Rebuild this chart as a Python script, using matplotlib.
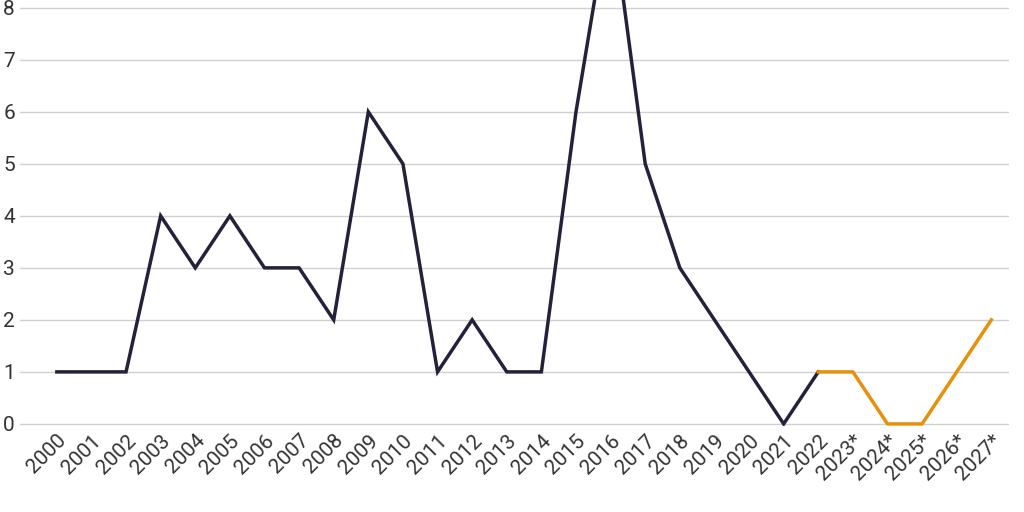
import matplotlib
matplotlib.use("Agg")
import matplotlib.pyplot as plt

plt.rcParams['font.family'] = ['Roboto', 'DejaVu Sans']

# Values
years = ['2000', '2001', '2002', '2003', '2004', '2005', '2006', '2007', '2008', '2009',
         '2010', '2011', '2012', '2013', '2014', '2015', '2016', '2017', '2018', '2019',
         '2020', '2021', '2022', '2023*', '2024*', '2025*', '2026*', '2027*']
actual = [1, 1, 1, 4, 3, 4, 3, 3, 2, 6, 5, 1, 2, 1, 1, 6, 10, 5, 3, 2, 1, 0, 1]
forecast = [1, 1, 0, 0, 1, 2]  # 2022 .. 2027*

fig = plt.figure(figsize=(10.24, 5.12), dpi=100)
ax = fig.add_axes([0.02, 0.168, 0.965, 0.832])

x_act = list(range(len(actual)))
x_fc = list(range(len(actual) - 1, len(years)))
ax.plot(x_act, actual, color='#24213b', lw=2.5, solid_joinstyle='miter')
ax.plot(x_fc, forecast, color='#e8900c', lw=2.5)

ax.set_xlim(-1.05, 27.5)
ax.set_ylim(-0.04, 8.15)
ax.set_yticks(range(0, 9))
ax.grid(axis='y', color='#d0d0d0', lw=1)
ax.set_axisbelow(True)
ax.set_xticks(range(len(years)))
ax.set_xticklabels(years, rotation=45, ha='right', rotation_mode='anchor')
ax.tick_params(length=0, labelsize=15, colors='#333333')
ax.tick_params(axis='y', pad=4)
for s in ax.spines.values():
    s.set_visible(False)

fig.savefig('out.png', dpi=100)
